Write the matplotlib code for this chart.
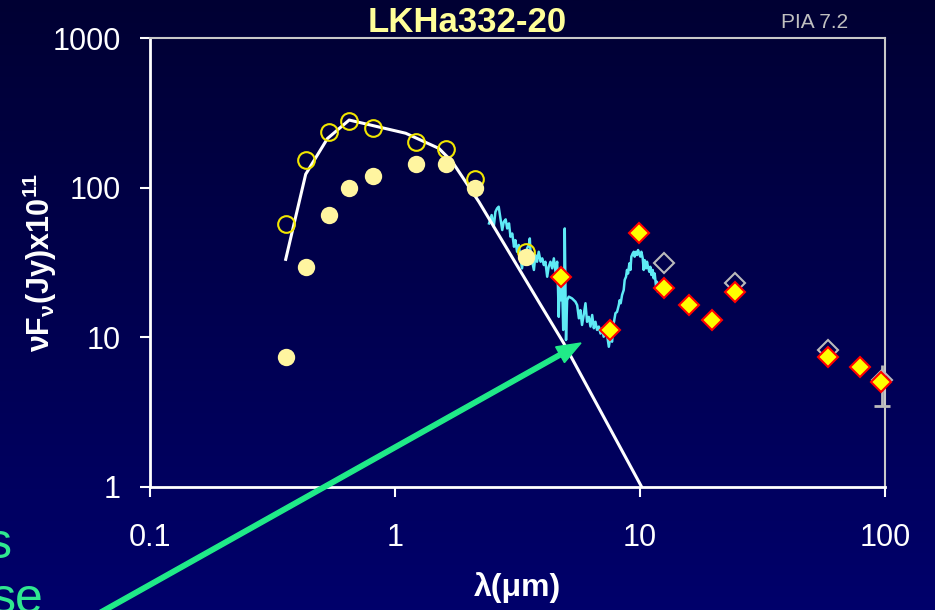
import matplotlib
matplotlib.use("Agg")
import matplotlib.pyplot as plt
import numpy as np
from matplotlib.patches import FancyArrow
from matplotlib.transforms import IdentityTransform
from matplotlib.ticker import NullLocator, FixedLocator, FixedFormatter

plt.rcParams['font.family'] = ['Liberation Sans', 'DejaVu Sans']
plt.rcParams['mathtext.fontset'] = 'custom'
plt.rcParams['mathtext.rm'] = 'Liberation Sans:bold'
plt.rcParams['mathtext.it'] = 'Liberation Sans:bold'
plt.rcParams['mathtext.bf'] = 'Liberation Sans:bold'

# optical / near-IR photometry (um, nuFnu x 1e11)
band_um = [0.36, 0.435, 0.54, 0.65, 0.81, 1.22, 1.61, 2.13, 3.41]
observed = [7.4, 29.4, 66, 100, 120, 143, 145, 100, 34.5]
dereddened = [57, 153, 236, 279, 249, 203, 180, 114, 37.3]

# photosphere model
model_um = [0.358, 0.432, 0.53, 0.65, 1.106, 1.51, 1.713, 2.2, 3.86, 4.89, 10.16]
model_flux = [33.2, 123, 213, 283, 231, 183, 149, 80.5, 17.3, 9.1, 1.0]

# mid/far-IR photometry
mir_um = [4.76, 7.57, 9.91, 12.5, 15.8, 19.7, 24.5, 58.8, 79.1, 96.7]
mir_flux = [25.4, 11.2, 49.5, 21.3, 16.4, 13.1, 20.2, 7.4, 6.3, 5.0]

# IRAS fluxes, with the 100 um range
iras_um = [12.5, 24.5, 58.8, 97]
iras_flux = [31.2, 22.9, 8.2, 5.2]
iras100_lo, iras100_hi = 3.5, 6.5

# IRS spectrum
spec_um = [2.42, 2.48, 2.53, 2.57, 2.61, 2.65, 2.70, 2.74, 2.78, 2.83, 2.87, 2.92,
           2.96, 3.01, 3.06, 3.10, 3.15, 3.20, 3.25, 3.30, 3.36, 3.41, 3.46, 3.52,
           3.55, 3.58, 3.63, 3.69, 3.74, 3.80, 3.86, 3.93, 3.99, 4.05, 4.11, 4.18,
           4.24, 4.31, 4.38, 4.45, 4.52, 4.59, 4.63, 4.66, 4.71, 4.75, 4.81, 4.86,
           4.90, 4.93, 4.96, 4.99, 5.04, 5.12, 5.28, 5.45, 5.54, 5.63, 5.71, 5.80,
           5.89, 5.99, 6.08, 6.18, 6.28, 6.38, 6.48, 6.58, 6.68, 6.79, 6.90, 7.00,
           7.11, 7.23, 7.34, 7.46, 7.57, 7.69, 7.81, 7.94, 8.06, 8.19, 8.26, 8.34,
           8.45, 8.58, 8.66, 8.77, 8.85, 8.94, 9.05, 9.14, 9.22, 9.34, 9.43, 9.51,
           9.63, 9.73, 9.82, 9.91, 10.03, 10.13, 10.26, 10.35, 10.45, 10.58, 10.68,
           10.78, 10.92, 11.02, 11.13, 11.27, 11.37, 11.48, 11.63, 11.73, 11.85]
spec_flux = [57.7, 65.6, 54.8, 69.0, 72.7, 74.6, 60.8, 52.1, 59.2, 61.4, 53.4, 57.7,
             47.0, 49.4, 40.3, 44.6, 37.3, 41.4, 34.6, 28.9, 36.4, 32.8, 39.3, 41.4,
             45.8, 34.6, 32.0, 28.2, 35.5, 32.0, 37.3, 32.0, 33.7, 30.4, 32.0, 25.4,
             29.6, 32.0, 28.9, 33.7, 27.4, 32.0, 20.7, 13.7, 26.7, 17.7, 22.9, 11.2,
             16.0, 53.4, 22.9, 9.6, 17.7, 18.7, 18.2, 17.3, 16.4, 13.4, 15.2, 12.1,
             14.1, 16.9, 12.7, 13.7, 11.8, 14.1, 11.5, 12.7, 11.2, 11.8, 10.6, 11.5,
             10.1, 11.2, 10.4, 8.65, 10.1, 9.35, 12.4, 14.5, 14.8, 16.4, 17.7, 16.9,
             19.2, 20.7, 24.2, 25.4, 28.2, 26.7, 31.2, 28.2, 34.6, 36.4, 37.3, 34.6,
             37.3, 35.5, 38.3, 36.4, 34.6, 37.3, 33.7, 28.2, 32.8, 28.9, 32.0,
             29.6, 27.4, 29.6, 26.1, 28.2, 24.8, 26.7, 21.8, 23.5, 20.2]

xticks = [0.1, 1, 10, 100]
xtick_labels = ['0.1', '1', '10', '100']
yticks = [1, 10, 100, 1000]
ytick_labels = ['1', '10', '100', '1000']

fig = plt.figure(figsize=(9.35, 6.1), dpi=100)

# navy gradient background
bg = fig.add_axes([0, 0, 1, 1], zorder=-10)
grad = np.linspace(0, 1, 256)[:, None]
top = np.array([0.0, 0.0, 0.20])
bottom = np.array([0.0, 0.0, 0.42])
rgb = top + (bottom - top) * grad[:, :, None]
bg.imshow(rgb, aspect='auto', extent=[0, 1, 0, 1], origin='upper')
bg.axis('off')

ax = fig.add_axes([150 / 935, 123 / 610, 735 / 935, 449 / 610])
ax.set_facecolor('none')
ax.set_xscale('log')
ax.set_yscale('log')
ax.set_xlim(0.1, 100)
ax.set_ylim(1, 1000)

ax.plot(spec_um, spec_flux, color='#5FEAF5', lw=1.8, zorder=2)
ax.plot(model_um, model_flux, color='white', lw=2.2, zorder=3)
ax.plot(band_um, dereddened, 'o', ms=12, mfc='none', mec='#F2E600', mew=1.5, zorder=4)
ax.plot(band_um, observed, 'o', ms=12.5, mfc='#FFF5A0', mec='none', zorder=5)
ax.vlines(iras_um[-1], iras100_lo, iras100_hi, color='#BBBBBB', lw=2, zorder=6,
          clip_on=False)
ax.plot([iras_um[-1]], [iras100_lo], '_', ms=12, mew=2, color='#BBBBBB', zorder=6,
        clip_on=False)
ax.plot(iras_um, iras_flux, 'D', ms=10, mfc='none', mec='#BBBBBB', mew=1.5, zorder=6,
        clip_on=False)
ax.plot(mir_um, mir_flux, 'D', ms=10.5, mfc='#FFFF00', mec='#FF0000', mew=1.5, zorder=7,
        clip_on=False)

ax.xaxis.set_major_locator(FixedLocator(xticks))
ax.xaxis.set_major_formatter(FixedFormatter(xtick_labels))
ax.yaxis.set_major_locator(FixedLocator(yticks))
ax.yaxis.set_major_formatter(FixedFormatter(ytick_labels))
ax.xaxis.set_minor_locator(NullLocator())
ax.yaxis.set_minor_locator(NullLocator())
ax.tick_params(axis='both', direction='out', length=7, width=1.5, colors='white',
               labelsize=22)
ax.tick_params(axis='x', pad=19)
ax.tick_params(axis='y', pad=14)

for side in ['left', 'bottom']:
    ax.spines[side].set_color('white')
    ax.spines[side].set_linewidth(2)
for side in ['top', 'right']:
    ax.spines[side].set_color('#C8C8C8')
    ax.spines[side].set_linewidth(1.5)

fig.text(467 / 935, 1 - 23 / 610, 'LKHa332-20', fontsize=25, fontweight='bold',
         color='#FFFF99', ha='center', va='center')
fig.text(848 / 935, 1 - 23 / 610, 'PIA 7.2', fontsize=15, color='#C0C0C0',
         ha='right', va='center')
fig.text(517 / 935, 1 - 588 / 610, 'λ(μm)', fontsize=23, fontweight='bold',
         color='white', ha='center', va='center')
fig.text(40 / 935, 1 - 262 / 610, r'νF$_{ν}$(Jy)x10$^{11}$', fontsize=22,
         fontweight='bold', color='white', ha='center', va='center', rotation=90)

# partial slide text on the left edge
fig.text(12 / 935, 1 - 545 / 610, 's', fontsize=36, color='#30E890',
         ha='right', va='center')
fig.text(43 / 935, 1 - 600 / 610, 'se', fontsize=36, color='#30E890',
         ha='right', va='center')

# green pointer arrow, in figure pixels
x0, y0 = 80, -14
x1, y1 = 581, 267
fig.add_artist(FancyArrow(x0, y0, x1 - x0, y1 - y0, width=4.5, head_width=18,
                          head_length=24, length_includes_head=True,
                          color='#20EA88', transform=IdentityTransform(),
                          zorder=20))

fig.savefig('out.png', dpi=100)
